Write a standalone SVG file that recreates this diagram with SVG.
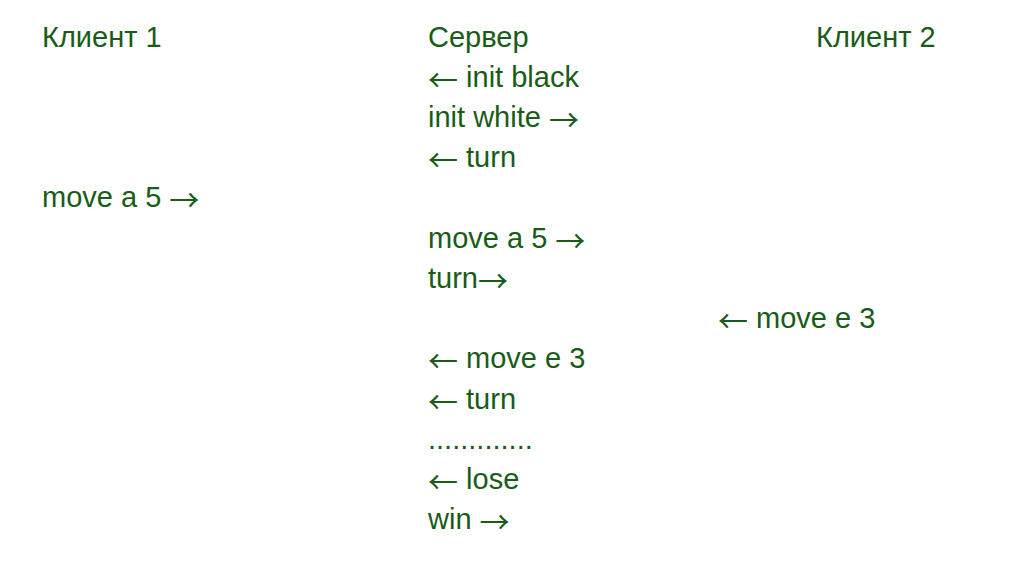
<svg xmlns="http://www.w3.org/2000/svg" width="1009" height="573" viewBox="0 0 1009 573">
<style>
text{font-family:"Liberation Sans",Arial,sans-serif;font-size:29px;fill:#185c18}
.a{font-family:"Noto Sans CJK JP",sans-serif;font-size:30px}
</style>
<rect width="1009" height="573" fill="#ffffff"/>
<g id="client1">
<text x="42" y="47">Клиент 1</text>
<text x="42" y="207">move a 5 <tspan class="a" dy="4">→</tspan></text>
</g>
<g id="server">
<text x="428" y="47">Сервер</text>
<text x="428" y="87"><tspan class="a" dy="4">←</tspan><tspan dy="-4"> init black</tspan></text>
<text x="428" y="127">init white <tspan class="a" dy="4">→</tspan></text>
<text x="428" y="167"><tspan class="a" dy="4">←</tspan><tspan dy="-4"> turn</tspan></text>
<text x="428" y="248">move a 5 <tspan class="a" dy="4">→</tspan></text>
<text x="428" y="288">turn<tspan class="a" dy="4">→</tspan></text>
<text x="428" y="368"><tspan class="a" dy="4">←</tspan><tspan dy="-4"> move e 3</tspan></text>
<text x="428" y="409"><tspan class="a" dy="4">←</tspan><tspan dy="-4"> turn</tspan></text>
<text x="428" y="449">.............</text>
<text x="428" y="489"><tspan class="a" dy="4">←</tspan><tspan dy="-4"> lose</tspan></text>
<text x="428" y="529">win <tspan class="a" dy="4">→</tspan></text>
</g>
<g id="client2">
<text x="816" y="47">Клиент 2</text>
<text x="718" y="328"><tspan class="a" dy="4">←</tspan><tspan dy="-4"> move e 3</tspan></text>
</g>
<g id="connectors"></g>
</svg>
